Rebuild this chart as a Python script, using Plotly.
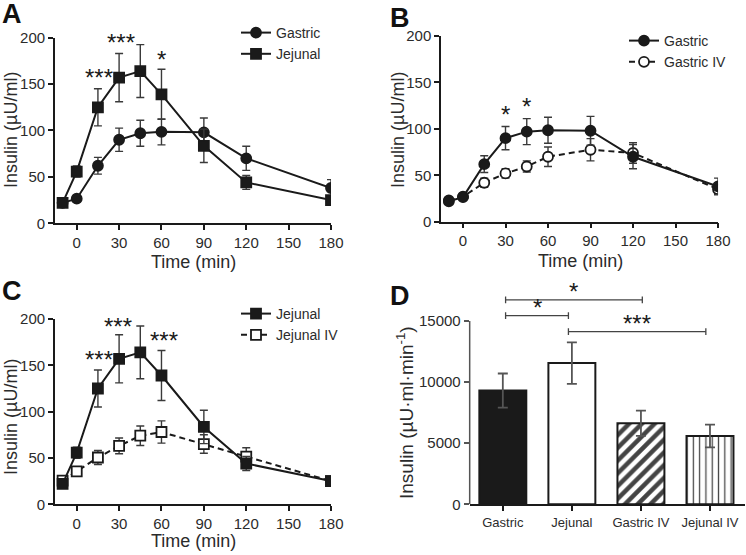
import plotly.graph_objects as go

# ---- data -------------------------------------------------------------
times = [-10, 0, 15, 30, 45, 60, 90, 120, 180]

gastric = [22, 26.5, 62, 90, 97, 98.5, 98, 70, 38]
gastric_err = [3, 3, 9, 12.5, 14, 14, 15.5, 13, 9]

jejunal = [22, 55.7, 125, 157, 164, 139, 83.5, 44, 25]
jejunal_err = [3, 6, 20, 26, 28.5, 27, 18, 7.5, 2]

gastric_iv = [23, 27, 42, 52, 59.5, 70, 77.5, 74, 35]
gastric_iv_err = [2, 3, 5, 5, 6, 10.5, 12, 11, 5]

jejunal_iv = [25.5, 35.5, 50.5, 63, 74, 78, 65, 51.5, 25]
jejunal_iv_err = [3, 5, 7.5, 8.5, 10.5, 12, 10, 9.5, 2]

stars_a_x = [16, 31, 46, 60]
stars_a_y = [157, 195, 205, 177]
stars_a_txt = ["***", "***", "***", "*"]

stars_b_x = [30, 45]
stars_b_y = [115, 124]
stars_b_txt = ["*", "*"]

stars_c_x = [16, 29.5, 46, 61.5]
stars_c_y = [156.5, 191.7, 205, 177]
stars_c_txt = ["***", "***", "***", "***"]

auc_groups = ["Gastric", "Jejunal", "Gastric IV", "Jejunal IV"]
auc_values = [9300, 11550, 6630, 5590]
auc_err = [1400, 1700, 1040, 930]

bracket_from = [0.04, 0.04, 0.95]
bracket_to = [2.02, 0.95, 2.94]
bracket_y = [16720, 15430, 14120]
bracket_txt = ["*", "*", "***"]

# ---- style ------------------------------------------------------------
FONT = "Liberation Sans, Arial, sans-serif"
INK = "#1a1a1a"
ERR = "#3a3a3a"
TXT = "#2b2b2b"

fig = go.Figure()


def add_series(xa, ya, y, err, name, symbol, fill, dash, legend):
    fig.add_trace(
        go.Scatter(
            x=times,
            y=y,
            xaxis=xa,
            yaxis=ya,
            name=name,
            mode="lines+markers",
            line=dict(color=INK, width=2, dash=dash),
            marker=dict(symbol=symbol, size=10, color=fill,
                        line=dict(color=INK, width=1.8)),
            error_y=dict(type="data", array=err, color=ERR,
                         thickness=1.4, width=4),
            legend=legend,
        )
    )


# panel A
add_series("x", "y", gastric, gastric_err, "Gastric", "circle", INK, "solid", "legend")
add_series("x", "y", jejunal, jejunal_err, "Jejunal", "square", INK, "solid", "legend")

# panel B (IV drawn first so it sits underneath)
add_series("x2", "y2", gastric_iv, gastric_iv_err, "Gastric IV", "circle", "white", "6px,4px", "legend2")
add_series("x2", "y2", gastric, gastric_err, "Gastric", "circle", INK, "solid", "legend2")

# panel C
add_series("x3", "y3", jejunal_iv, jejunal_iv_err, "Jejunal IV", "square", "white", "6px,4px", "legend3")
add_series("x3", "y3", jejunal, jejunal_err, "Jejunal", "square", INK, "solid", "legend3")

# panel D bars
bar_fill = [INK, "white", "white", "white"]
bar_pattern = ["", "", "/", "|"]
fig.add_trace(
    go.Bar(
        x=list(range(len(auc_groups))),
        y=auc_values,
        xaxis="x4",
        yaxis="y4",
        width=0.68,
        marker=dict(
            color=bar_fill,
            line=dict(color=INK, width=2),
            pattern=dict(shape=bar_pattern, fgcolor=INK, bgcolor="white",
                         fgopacity=1,
                         size=[8, 8, 9, 6.3], solidity=[0.3, 0.3, 0.5, 0.2],
                         fillmode="overlay"),
        ),
        error_y=dict(type="data", array=auc_err, color="#555555",
                     thickness=1.8, width=5),
        showlegend=False,
    )
)

# ---- axes -------------------------------------------------------------
time_axis = dict(
    range=[-15.5, 180],
    tickvals=[0, 30, 60, 90, 120, 150, 180],
    showline=True, linecolor=INK, linewidth=1.5,
    ticks="outside", ticklen=5, tickwidth=1.5, tickcolor=INK,
    showgrid=False, zeroline=False, automargin=False,
    tickfont=dict(family=FONT, size=15, color=TXT),
)
ins_axis = dict(
    range=[0, 200],
    tickvals=[0, 50, 100, 150, 200],
    showline=True, linecolor=INK, linewidth=1.5,
    ticks="outside", ticklen=5, tickwidth=1.5, tickcolor=INK,
    showgrid=False, zeroline=False, automargin=False,
    tickfont=dict(family=FONT, size=15, color=TXT),
)

fig.update_layout(
    template="none",
    xaxis=dict(time_axis, domain=[0.0735, 0.4437], anchor="y"),
    yaxis=dict(ins_axis, domain=[0.5977, 0.9321], anchor="x"),
    xaxis2=dict(time_axis, domain=[0.5912, 0.9625], anchor="y2"),
    yaxis2=dict(ins_axis, domain=[0.6005, 0.9351], anchor="x2"),
    xaxis3=dict(time_axis, domain=[0.0735, 0.4437], anchor="y3"),
    yaxis3=dict(ins_axis, domain=[0.0914, 0.4252], anchor="x3"),
    xaxis4=dict(
        range=[-0.48, 3.5], domain=[0.6296, 0.998], anchor="y4",
        tickvals=list(range(len(auc_groups))), ticktext=auc_groups,
        showline=True, linecolor=INK, linewidth=1.5,
        ticks="outside", ticklen=5, tickwidth=1.5, tickcolor=INK,
        showgrid=False, zeroline=False, automargin=False,
        tickfont=dict(family=FONT, size=13, color=TXT),
    ),
    yaxis4=dict(
        range=[0, 17500], domain=[0.0914, 0.4768], anchor="x4",
        tickvals=[0, 5000, 10000, 15000], tickformat="d",
        showline=False,
        ticks="outside", ticklen=5, tickwidth=1.5, tickcolor="#555555",
        showgrid=False, zeroline=False, automargin=False,
        tickfont=dict(family=FONT, size=15, color=TXT),
    ),
)

legend_style = dict(
    font=dict(family=FONT, size=14, color=TXT),
    bgcolor="rgba(0,0,0,0)", borderwidth=0,
    xanchor="left", yanchor="top", traceorder="normal",
)
fig.update_layout(
    legend=dict(legend_style, x=236 / 746, y=1 - 17 / 555),
    legend2=dict(legend_style, x=624 / 746, y=1 - 25 / 555, traceorder="reversed"),
    legend3=dict(legend_style, x=236 / 746, y=1 - 298 / 555, traceorder="reversed"),
)

# ---- y axis line of panel D stops at 15000 ----------------------------
fig.add_shape(type="line", xref="x4 domain", yref="y4", x0=0, x1=0,
              y0=0, y1=15000, line=dict(color="#555555", width=1.5))

# ---- significance brackets (panel D) ----------------------------------
for a, b, yv, txt in zip(bracket_from, bracket_to, bracket_y, bracket_txt):
    for x0, x1, y0, y1 in [(a, b, yv, yv), (a, a, yv - 280, yv + 280),
                           (b, b, yv - 280, yv + 280)]:
        fig.add_shape(type="line", xref="x4", yref="y4", x0=x0, x1=x1,
                      y0=y0, y1=y1, line=dict(color="#444444", width=1.3))
    fig.add_annotation(x=(a + b) / 2, y=yv, xref="x4", yref="y4", text=txt,
                       showarrow=False, yanchor="middle", yshift=8,
                       font=dict(family=FONT, size=24, color=INK))

# ---- asterisks on time courses ----------------------------------------
for xs, ys, ts, xa, ya in [(stars_a_x, stars_a_y, stars_a_txt, "x", "y"),
                           (stars_b_x, stars_b_y, stars_b_txt, "x2", "y2"),
                           (stars_c_x, stars_c_y, stars_c_txt, "x3", "y3")]:
    for xv, yv, t in zip(xs, ys, ts):
        fig.add_annotation(x=xv, y=yv, xref=xa, yref=ya, text=t,
                           showarrow=False, yanchor="middle",
                           font=dict(family=FONT, size=24, color=INK))

# ---- axis titles & panel letters --------------------------------------
titles = [
    ("Time (min)", 193 / 746, 262, 0, 18),
    ("Time (min)", 580 / 746, 261, 0, 18),
    ("Time (min)", 193 / 746, 541, 0, 18),
    ("Insulin (µU/ml)", 11 / 746, 130, -90, 18),
    ("Insulin (µU/ml)", 398 / 746, 130, -90, 18),
    ("Insulin (µU/ml)", 11 / 746, 417, -90, 18),
    ("Insulin (µU·ml·min<sup>-1</sup>)", 405 / 746, 413, -90, 19),
]
for txt, xp, ypx, ang, fs in titles:
    fig.add_annotation(x=xp, y=1 - ypx / 555, xref="paper", yref="paper",
                       text=txt, showarrow=False, textangle=ang,
                       xanchor="center", yanchor="middle",
                       font=dict(family=FONT, size=fs, color=TXT))

letters = [("A", 0, -3), ("B", 388, 1), ("C", 0, 274), ("D", 388, 279)]
for txt, xpx, ypx in letters:
    fig.add_annotation(x=xpx / 746, y=1 - ypx / 555, xref="paper", yref="paper",
                       text="<b>" + txt + "</b>", showarrow=False,
                       xanchor="left", yanchor="top",
                       font=dict(family=FONT, size=27, color="#111111"))

fig.update_layout(
    width=746, height=555,
    margin=dict(l=0, r=0, t=0, b=0, autoexpand=False),
    paper_bgcolor="white", plot_bgcolor="white",
    font=dict(family=FONT),
)

# the page body has a default 8px margin; drop it so the figure fills the window
fig.write_html("out.html", config={"displayModeBar": False},
               post_script="document.body.style.margin='0';")
